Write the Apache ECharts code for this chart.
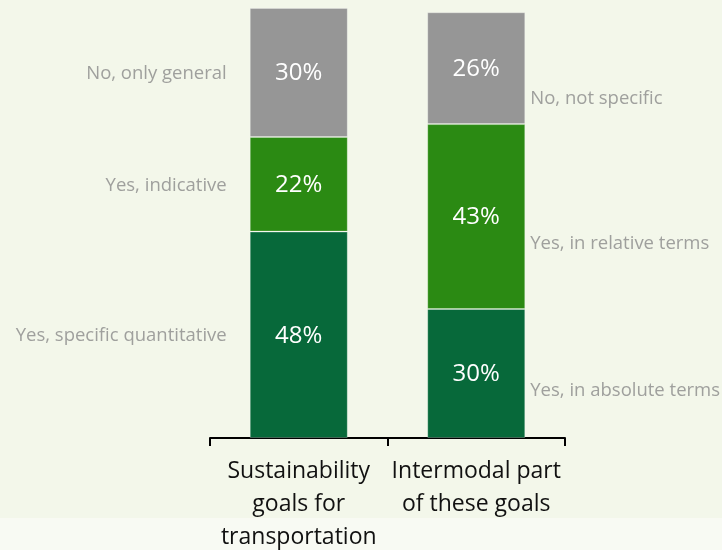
<!DOCTYPE html>
<html>
<head>
<meta charset="utf-8">
<script src="https://cdn.jsdelivr.net/npm/echarts@6/dist/echarts.min.js"></script>
<style>
  html, body { margin: 0; padding: 0; background: #F8FAF3; }
  #chart { width: 722px; height: 550px; }
</style>
</head>
<body>
<div id="chart"></div>
<script>
// Categories on the x axis
const categories = ['Sustainability\ngoals for\ntransportation', 'Intermodal part\nof these goals'];

// Stacked shares (%) from bottom to top
const specificValues = [48, 30];   // dark green
const indicativeValues = [22, 43]; // light green
const generalValues = [30, 26];    // gray

// Segment names shown beside each bar, bottom to top
const leftNames = ['Yes, specific quantitative', 'Yes, indicative', 'No, only general'];
const rightNames = ['Yes, in absolute terms', 'Yes, in relative terms', 'No, not specific'];

const colors = ['#07693A', '#2B8A13', '#969696'];
const stacks = [specificValues, indicativeValues, generalValues];

// Midpoints of each segment, in value units
function mids(idx) {
  let acc = 0;
  return stacks.map(s => { const m = acc + s[idx] / 2; acc += s[idx]; return m; });
}
const leftMids = mids(0);
const rightMids = mids(1);
const rightShift = [17, 27, 31];

const font = '"Open Sans", sans-serif';

const barSeries = stacks.map((vals, i) => ({
  type: 'bar',
  stack: 'total',
  barWidth: 98,
  data: vals,
  itemStyle: { color: colors[i], borderColor: 'rgba(255,255,255,0.25)', borderWidth: 1 },
  label: {
    show: true,
    position: 'inside',
    offset: [0, 1],
    formatter: p => p.value + '%',
    color: '#ffffff',
    fontSize: 24,
    fontFamily: font
  },
  emphasis: { disabled: true },
  z: 2
}));

const sideLabel = {
  show: true,
  formatter: p => p.name,
  color: '#8A8A8A',
  fontSize: 18.5,
  fontFamily: font
};

const leftLabels = {
  type: 'scatter',
  symbolSize: 0,
  silent: true,
  data: leftMids.map((m, i) => ({ value: [0, m], name: leftNames[i] })),
  label: Object.assign({}, sideLabel, { position: 'left', distance: 72, offset: [0, 1] }),
  z: 3
};

const rightLabels = {
  type: 'scatter',
  symbolSize: 0,
  silent: true,
  data: rightMids.map((m, i) => ({
    value: [1, m],
    name: rightNames[i],
    label: { offset: [0, rightShift[i]] }
  })),
  label: Object.assign({}, sideLabel, { position: 'right', distance: 54 }),
  z: 3
};

const chart = echarts.init(document.getElementById('chart'), null, { renderer: 'canvas' });
chart.setOption({
  backgroundColor: '#F8FAF3',
  animation: false,
  graphic: [{
    type: 'rect',
    shape: { x: 0, y: 0, width: 722, height: 518 },
    style: { fill: '#F3F7EA' },
    z: -10,
    silent: true
  }],
  grid: { left: 210, right: 157, top: 8, bottom: 112, containLabel: false, outerBoundsMode: 'none' },
  xAxis: {
    type: 'category',
    data: categories,
    boundaryGap: true,
    axisLine: { show: true, lineStyle: { color: '#000000', width: 2 } },
    axisTick: { show: true, length: 8, alignWithLabel: false, lineStyle: { color: '#000000', width: 2 } },
    axisLabel: {
      color: '#111111',
      fontSize: 23,
      lineHeight: 33,
      margin: 17,
      fontFamily: font,
      interval: 0
    }
  },
  yAxis: {
    type: 'value',
    min: 0,
    max: 100,
    show: false,
    splitLine: { show: false }
  },
  series: [...barSeries, leftLabels, rightLabels]
});
</script>
</body>
</html>
